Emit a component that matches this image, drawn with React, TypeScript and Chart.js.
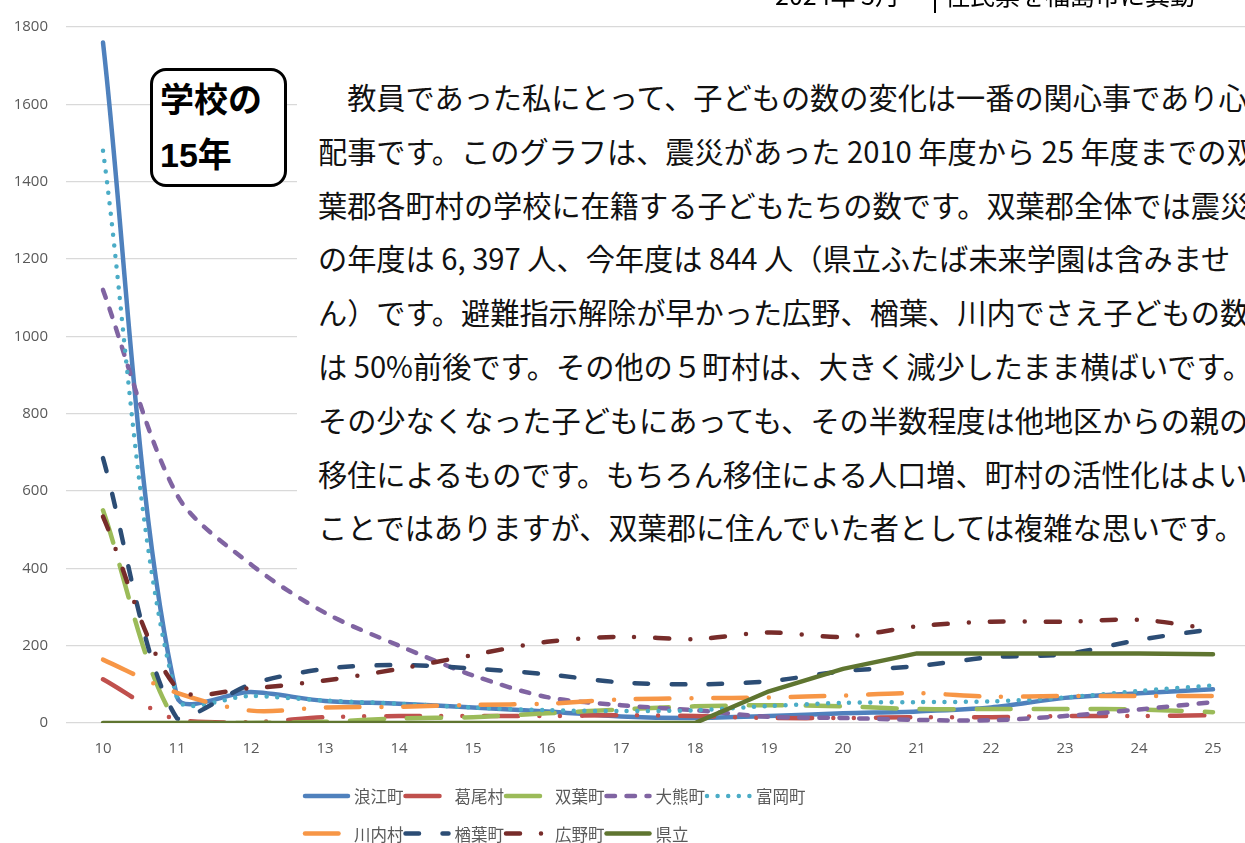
import React, { useEffect, useRef } from 'react';
import { Chart, registerables } from 'chart.js';

Chart.register(...registerables);

// ---- data ----
const years = ['10', '11', '12', '13', '14', '15', '16', '17', '18', '19', '20', '21', '22', '23', '24', '25'];
const seriesNames = ['浪江町', '葛尾村', '双葉町', '大熊町', '富岡町', '川内村', '楢葉町', '広野町', '県立'];
const namie = [1760, 68, 80, 57, 50, 40, 30, 17, 13, 18, 25, 30, 40, 65, 77, 87];
const katsurao = [113, 8, 2, 15, 18, 18, 18, 20, 18, 13, 13, 15, 15, 18, 18, 20];
const futaba = [550, 0, 0, 3, 12, 15, 25, 35, 43, 46, 43, 36, 36, 36, 35, 28];
const okuma = [1120, 590, 410, 285, 200, 123, 67, 46, 33, 16, 13, 8, 7, 18, 35, 54];
const tomioka = [1480, 65, 70, 58, 50, 40, 33, 31, 33, 44, 52, 54, 56, 66, 83, 97];
const kawauchi = [164, 78, 32, 40, 42, 47, 50, 61, 64, 66, 71, 77, 68, 70, 70, 70];
const naraha = [685, 12, 100, 140, 150, 141, 126, 105, 100, 108, 134, 147, 170, 178, 215, 243];
const hirono = [534, 90, 90, 110, 140, 176, 210, 223, 217, 234, 223, 250, 262, 262, 267, 243];
const kenritsu = [0, 0, 0, 0, 0, 0, 0, 0, 0, 82, 140, 180, 180, 180, 180, 178];
const yMin = 0;
const yMax = 1800;
const yStep = 200;

const titleLines = ['学校の', '15年'];
const headerLeft = '2024年 3月';
const headerRight = '住民票を福島市に異動';
const bodyLines = [
  '　教員であった私にとって、子どもの数の変化は一番の関心事であり心',
  '配事です。このグラフは、震災があった 2010 年度から 25 年度までの双',
  '葉郡各町村の学校に在籍する子どもたちの数です。双葉郡全体では震災',
  'の年度は 6, 397  人、今年度は 844  人（県立ふたば未来学園は含みませ',
  'ん）です。避難指示解除が早かった広野、楢葉、川内でさえ子どもの数',
  'は 50%前後です。その他の５町村は、大きく減少したまま横ばいです。',
  'その少なくなった子どもにあっても、その半数程度は他地区からの親の',
  '移住によるものです。もちろん移住による人口増、町村の活性化はよい',
  'ことではありますが、双葉郡に住んでいた者としては複雑な思いです。',
];

// ---- styles ----
const seriesValues = [namie, katsurao, futaba, okuma, tomioka, kawauchi, naraha, hirono, kenritsu];
const seriesColors = ['#4F81BD', '#C0504D', '#9BBB59', '#8064A2', '#4BACC6', '#F79646', '#2C4D75', '#772C2A', '#5F7530'];
const seriesDash: number[][] = [
  [],
  [34, 21, 0, 21, 0, 22],
  [34, 23],
  [8.5, 11.5],
  [0, 10.6],
  [33.5, 22, 0, 22],
  [13.5, 23.5],
  [14, 21, 0, 21],
  [],
];
const seriesTension = [0.3, 0.3, 0.3, 0.3, 0.3, 0.3, 0.3, 0.3, 0];

const LEGEND_X = 303;
const LEGEND_COL = 100.5;
const LEGEND_Y = 796;
const LEGEND_ROW = 37.5;

const excelLegend = {
  id: 'excelLegend',
  afterDraw(chart: any) {
    const ctx = chart.ctx as CanvasRenderingContext2D;
    ctx.save();
    chart.data.datasets.forEach((ds: any, i: number) => {
      const col = i % 5;
      const row = Math.floor(i / 5);
      const x0 = LEGEND_X + col * LEGEND_COL;
      const y = LEGEND_Y + row * LEGEND_ROW;
      ctx.strokeStyle = ds.borderColor;
      ctx.lineWidth = ds.borderWidth;
      ctx.lineCap = 'round';
      ctx.setLineDash(ds.borderDash || []);
      ctx.beginPath();
      ctx.moveTo(x0 + 2, y);
      ctx.lineTo(x0 + 45, y);
      ctx.stroke();
      ctx.setLineDash([]);
      ctx.fillStyle = '#595959';
      ctx.font = '16.5px "Noto Sans CJK JP"';
      ctx.textBaseline = 'middle';
      ctx.textAlign = 'left';
      ctx.fillText(ds.label, x0 + 51, y + 1);
    });
    ctx.restore();
  },
};

export default function App() {
  const ref = useRef<HTMLCanvasElement>(null);

  useEffect(() => {
    if (!ref.current) return;
    const chart = new Chart(ref.current, {
      type: 'line',
      data: {
        labels: years,
        datasets: seriesNames.map((name, i) => ({
          label: name,
          data: seriesValues[i],
          borderColor: seriesColors[i],
          backgroundColor: seriesColors[i],
          borderWidth: 4.5,
          borderDash: seriesDash[i],
          borderCapStyle: 'round' as const,
          borderJoinStyle: 'round' as const,
          pointRadius: 0,
          pointHoverRadius: 0,
          tension: seriesTension[i],
          fill: false,
          order: seriesNames.length - 1 - i,
        })),
      },
      options: {
        animation: false,
        responsive: true,
        maintainAspectRatio: false,
        layout: { padding: { top: 22, bottom: 80, left: 0, right: 0 } },
        plugins: {
          legend: { display: false },
          tooltip: { enabled: false },
          title: { display: false },
        },
        scales: {
          x: {
            type: 'category',
            offset: true,
            grid: { display: false, drawTicks: false },
            border: { display: false },
            ticks: {
              color: '#595959',
              font: { family: '"Open Sans"', size: 15 },
              padding: 17,
              maxRotation: 0,
              autoSkip: false,
            },
            afterFit: (scale: any) => {
              scale.height = 40;
            },
          },
          y: {
            min: yMin,
            max: yMax,
            grid: { color: '#D9D9D9', lineWidth: 1.3, drawTicks: false },
            border: { display: false },
            ticks: {
              stepSize: yStep,
              color: '#595959',
              font: { family: '"Open Sans"', size: 15 },
              padding: 18,
              callback: (v: any) => String(v),
            },
            afterFit: (scale: any) => {
              scale.width = 66;
            },
          },
        },
      },
      plugins: [excelLegend],
    });
    return () => chart.destroy();
  }, []);

  return (
    <div
      style={{
        position: 'fixed',
        left: 0,
        top: 0,
        width: 1245,
        height: 843,
        overflow: 'hidden',
        background: '#ffffff',
      }}
    >
      <div style={{ position: 'absolute', left: 0, top: 0, width: 1250, height: 843 }}>
        <canvas ref={ref} />
      </div>

      {/* header fragments at the very top */}
      <div
        style={{
          position: 'absolute',
          left: 775,
          top: -18,
          fontFamily: '"Noto Sans CJK JP"',
          fontSize: 25,
          lineHeight: '25px',
          color: '#000',
          whiteSpace: 'nowrap',
        }}
      >
        {headerLeft}
      </div>
      <div style={{ position: 'absolute', left: 934, top: 0, width: 2, height: 13, background: '#000' }} />
      <div
        style={{
          position: 'absolute',
          left: 945,
          top: -18,
          fontFamily: '"Noto Sans CJK JP"',
          fontSize: 25,
          lineHeight: '25px',
          color: '#000',
          whiteSpace: 'nowrap',
        }}
      >
        {headerRight}
      </div>

      {/* text box */}
      <div
        style={{
          position: 'absolute',
          left: 297,
          top: 40,
          width: 1000,
          height: 538,
          background: '#ffffff',
          boxSizing: 'border-box',
          paddingLeft: 21,
          paddingTop: 30,
          fontFamily: '"Noto Sans CJK JP"',
          fontSize: 29.2,
          lineHeight: '53.8px',
          color: '#111',
          whiteSpace: 'nowrap',
        }}
      >
        {bodyLines.map((l, i) => (
          <div key={i}>{l}</div>
        ))}
      </div>

      {/* title box */}
      <div
        style={{
          position: 'absolute',
          left: 150,
          top: 68,
          width: 137,
          height: 119,
          boxSizing: 'border-box',
          border: '3px solid #000',
          borderRadius: 16,
          background: '#ffffff',
          paddingLeft: 7,
          paddingTop: 2,
          fontFamily: '"Liberation Sans", "Noto Sans CJK JP"',
          fontWeight: 700,
          fontSize: 34,
          lineHeight: '55px',
          color: '#000',
          whiteSpace: 'nowrap',
        }}
      >
        {titleLines.map((l, i) => (
          <div key={i}>{l}</div>
        ))}
      </div>
    </div>
  );
}
